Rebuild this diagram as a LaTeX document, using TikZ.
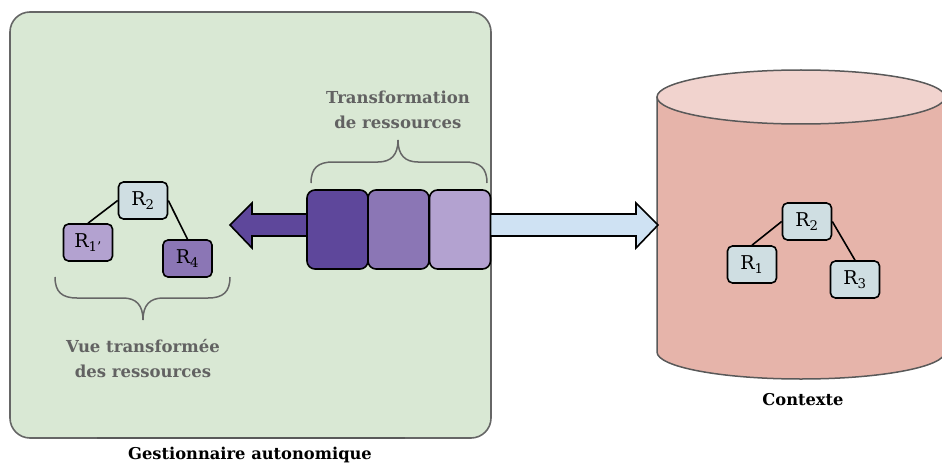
\documentclass[tikz,border=0pt]{standalone}
\usepackage{fontspec}
\setmainfont{DejaVu Serif}
\usetikzlibrary{calc}
\definecolor{gfill}{HTML}{D9E8D4}
\definecolor{gline}{HTML}{666666}
\definecolor{cline}{HTML}{595959}
\definecolor{cylbody}{HTML}{E6B4AA}
\definecolor{cyltop}{HTML}{F1D3CE}
\definecolor{rblue}{HTML}{CFDEE2}
\definecolor{plight}{HTML}{B3A2D0}
\definecolor{pmid}{HTML}{8B76B5}
\definecolor{pdark}{HTML}{5E479B}
\definecolor{ablue}{HTML}{CFE2F3}
\definecolor{tgray}{HTML}{626262}
\begin{document}
\begin{tikzpicture}[x=1pt,y=-1pt,
  rbox/.style={draw=black, line width=1.6pt, rounded corners=5pt, minimum width=49pt, minimum height=37pt, inner sep=0pt, font=\fontsize{19}{19}\selectfont},
  block/.style={draw=black, line width=1.6pt, rounded corners=8pt, minimum width=61pt, minimum height=79pt, inner sep=0pt},
  glabel/.style={text=tgray, font=\fontsize{16.5}{25}\selectfont\bfseries, align=center},
  blabel/.style={text=black, font=\fontsize{16.3}{18}\selectfont\bfseries, align=center},
  edge/.style={draw=black, line width=1.6pt},
  brace/.style={draw=gline, line width=1.5pt},
  bigarrow/.style={draw=black, line width=1.6pt, line join=miter}
]
\useasboundingbox (0,0) rectangle (942,468);
% green container
\node[draw=gline, fill=gfill, line width=1.6pt, rounded corners=20pt, minimum width=481pt, minimum height=426pt, inner sep=0pt] (gm) at (250.5,225) {};
\draw[cline, line width=2.2pt] (97,438) -- (405,438);
\node[blabel] (gmlabel) at (250,455) {Gestionnaire autonomique};

% cylinder
\fill[cylbody] (657,97) -- (657,352) arc[start angle=180, end angle=0, x radius=144, y radius=27] -- (945,97) -- cycle;
\draw[cline, line width=1.5pt] (657,97) -- (657,352) arc[start angle=180, end angle=0, x radius=144, y radius=27] -- (945,97);
\draw[cline, line width=1.5pt, fill=cyltop] (801,97) ellipse[x radius=144, y radius=27];
\node[blabel] (ctxlabel) at (803,400) {Contexte};

% arrows
\coordinate (ltip) at (230,225);
\coordinate (rtip) at (658,225);
\draw[bigarrow, fill=pdark] (308,214) -- (252,214) -- (252,203) -- (ltip) -- (252,248) -- (252,236) -- (308,236) -- cycle;
\draw[bigarrow, fill=ablue] (490,214) -- (636,214) -- (636,203) -- (rtip) -- (636,248) -- (636,236) -- (490,236) -- cycle;

% transformation blocks
\node[block, fill=pdark] (b1) at (337.5,229.5) {};
\node[block, fill=pmid] (b2) at (398.5,229.5) {};
\node[block, fill=plight] (b3) at (460,229.5) {};

% brace above blocks
\draw[brace] (311,183) .. controls (311,168) and (318,162) .. (333,162) -- (378,162) .. controls (391,162) and (398,155) .. (398,140)
  .. controls (398,155) and (405,162) .. (418,162) -- (465,162) .. controls (480,162) and (487,168) .. (487,183);
\node[glabel] (tlabel) at (398,110) {Transformation\\de ressources};

% left tree
\node[rbox, fill=rblue] (lr2) at (143,200.5) {R\textsubscript{2}};
\node[rbox, fill=plight] (lr1) at (88,242.5) {R\textsubscript{1’}};
\node[rbox, fill=pmid] (lr4) at (187.5,258.5) {R\textsubscript{4}};
\draw[edge] (lr2.west) -- (lr1.north);
\draw[edge] (lr2.east) -- (lr4.north);

% brace below left tree
\draw[brace] (55,277) .. controls (55,292) and (62,298) .. (77,298) -- (123,298) .. controls (136,298) and (143,305) .. (143,320)
  .. controls (143,305) and (150,298) .. (163,298) -- (208,298) .. controls (223,298) and (230,292) .. (230,277);
\node[glabel] (vlabel) at (143,359) {Vue transformée\\des ressources};

% right tree
\node[rbox, fill=rblue] (rr2) at (807,221.5) {R\textsubscript{2}};
\node[rbox, fill=rblue] (rr1) at (752,264.5) {R\textsubscript{1}};
\node[rbox, fill=rblue] (rr3) at (855,279.5) {R\textsubscript{3}};
\draw[edge] (rr2.west) -- (rr1.north);
\draw[edge] (rr2.east) -- (rr3.north);
\end{tikzpicture}
\end{document}
